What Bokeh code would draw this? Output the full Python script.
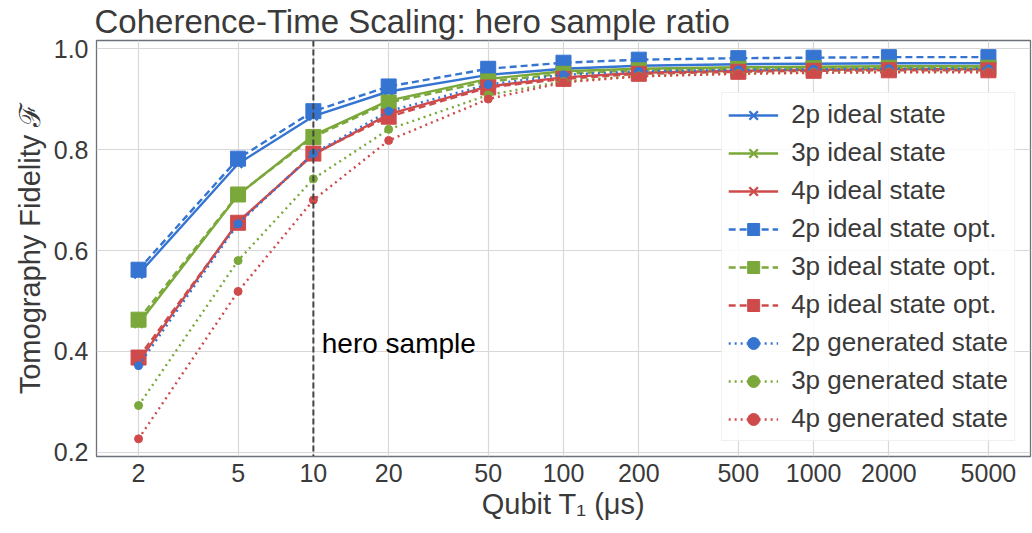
from bokeh.plotting import figure
from bokeh.models import Range1d, FixedTicker, Span, Label, Legend
from bokeh.embed import file_html
from bokeh.resources import INLINE

t1 = [2, 5, 10, 20, 50, 100, 200, 500, 1000, 2000, 5000]
tick_labels = ["2", "5", "10", "20", "50", "100", "200", "500", "1000", "2000", "5000"]

ideal_2p = [0.553, 0.772, 0.866, 0.915, 0.948, 0.960, 0.966, 0.969, 0.970, 0.971, 0.971]
ideal_3p = [0.455, 0.710, 0.828, 0.897, 0.940, 0.955, 0.960, 0.963, 0.964, 0.965, 0.965]
ideal_4p = [0.380, 0.657, 0.790, 0.870, 0.925, 0.943, 0.952, 0.956, 0.958, 0.959, 0.959]
opt_2p = [0.562, 0.782, 0.876, 0.925, 0.960, 0.972, 0.978, 0.981, 0.982, 0.983, 0.983]
opt_3p = [0.463, 0.711, 0.825, 0.893, 0.935, 0.950, 0.957, 0.960, 0.961, 0.962, 0.962]
opt_4p = [0.388, 0.655, 0.792, 0.865, 0.923, 0.940, 0.950, 0.954, 0.956, 0.957, 0.957]
gen_2p = [0.372, 0.653, 0.792, 0.876, 0.929, 0.948, 0.955, 0.958, 0.959, 0.960, 0.960]
gen_3p = [0.293, 0.580, 0.742, 0.840, 0.908, 0.935, 0.946, 0.951, 0.953, 0.954, 0.954]
gen_4p = [0.227, 0.519, 0.700, 0.818, 0.900, 0.933, 0.945, 0.950, 0.952, 0.953, 0.953]

y_ticks = [0.2, 0.4, 0.6, 0.8, 1.0]
hero_t1 = 10

BLUE = "#3574d0"
GREEN = "#7ba83a"
RED = "#cf4b4b"
FONT = "Liberation Sans"
TXT = "#3a3a3a"

p = figure(width=1032, height=533, x_axis_type="log",
           x_range=Range1d(1.358, 7365), y_range=Range1d(0.192, 1.016),
           output_backend="svg", toolbar_location=None,
           min_border_left=96, min_border_right=2, min_border_top=40, min_border_bottom=77)
p.frame_width = 934
p.frame_height = 416

p.title.text = "Coherence-Time Scaling: hero sample ratio"
p.title.text_font = FONT
p.title.text_font_size = "33px"
p.title.text_font_style = "normal"
p.title.text_color = TXT
p.title.offset = -2
p.title.standoff = 1

p.outline_line_color = "#6b707a"
p.outline_line_width = 1.3
p.background_fill_color = "white"
p.border_fill_color = "white"

p.xaxis.ticker = FixedTicker(ticks=t1, minor_ticks=[])
p.xaxis.major_label_overrides = {v: s for v, s in zip(t1, tick_labels)}
p.yaxis.ticker = FixedTicker(ticks=y_ticks, minor_ticks=[])
p.yaxis.major_label_overrides = {v: f"{v:.1f}" for v in y_ticks}

for ax in (p.xaxis[0], p.yaxis[0]):
    ax.axis_line_color = None
    ax.major_tick_line_color = None
    ax.minor_tick_line_color = None
    ax.major_tick_in = 0
    ax.major_tick_out = 0
    ax.major_label_text_font = FONT
    ax.major_label_text_font_size = "25px"
    ax.major_label_text_color = TXT
    ax.axis_label_text_font = FONT
    ax.axis_label_text_font_size = "29px"
    ax.axis_label_text_font_style = "normal"
    ax.axis_label_text_color = TXT

p.xaxis.axis_label = "Qubit T\u2081 (\u03bcs)"
p.yaxis.axis_label = "Tomography Fidelity \u2131"
p.xaxis.major_label_standoff = 7
p.xaxis.axis_label_standoff = 3
p.yaxis.major_label_standoff = 8
p.yaxis.axis_label_standoff = 5

p.grid.grid_line_color = "#d8d8d8"
p.grid.grid_line_width = 1.2

series = [
    ("2p ideal state", ideal_2p, BLUE, "solid", "x"),
    ("3p ideal state", ideal_3p, GREEN, "solid", "x"),
    ("4p ideal state", ideal_4p, RED, "solid", "x"),
    ("2p ideal state opt.", opt_2p, BLUE, "dashed", "square"),
    ("3p ideal state opt.", opt_3p, GREEN, "dashed", "square"),
    ("4p ideal state opt.", opt_4p, RED, "dashed", "square"),
    ("2p generated state", gen_2p, BLUE, "dotted", "circle"),
    ("3p generated state", gen_3p, GREEN, "dotted", "circle"),
    ("4p generated state", gen_4p, RED, "dotted", "circle"),
]

items = []
for label, vals, col, style, marker in series:
    dash = {"solid": "solid", "dashed": "7 4", "dotted": "2 4"}[style]
    r1 = p.line(t1, vals, line_color=col, line_width=2.4, line_dash=dash)
    if marker == "x":
        r2 = p.scatter(t1, vals, marker="x", size=12, line_color=col, line_width=2.4)
    elif marker == "square":
        r2 = p.scatter(t1, vals, marker="square", size=15, fill_color=col, line_color=col)
    else:
        r2 = p.scatter(t1, vals, marker="circle", size=8, fill_color=col, line_color=col)
    items.append((label, [r1, r2]))

legend = Legend(items=items, location="bottom_right")
legend.label_text_font = FONT
legend.label_text_font_size = "26px"
legend.label_text_color = TXT
legend.glyph_width = 50
legend.glyph_height = 30
legend.label_height = 30
legend.spacing = 7
legend.padding = 6
legend.margin = 15
legend.label_standoff = 13
legend.border_line_color = "#e2e2e2"
legend.border_line_width = 1
legend.background_fill_alpha = 0.85
p.add_layout(legend)

vline = Span(location=hero_t1, dimension="height", line_color="#444444",
             line_width=2, line_dash="6 3")
p.add_layout(vline)

hero = Label(x=10.8, y=0.416, text="hero sample", text_font=FONT,
             text_font_size="28px", text_color="black", text_baseline="middle")
p.add_layout(hero)

open("out.html", "w").write(file_html(p, INLINE))
